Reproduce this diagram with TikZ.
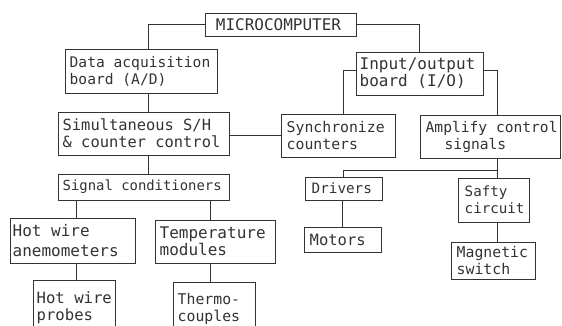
\documentclass[tikz,border=0pt]{standalone}
\usepackage{fontspec}
\setmainfont{DejaVu Sans Mono}
\begin{document}
\begin{tikzpicture}[x=1pt,y=-1pt,
  box/.style={draw=black!80, line width=1pt, inner sep=0pt, rectangle},
  txt/.style={inner sep=0pt, align=left, text=black!80, font=\fontsize{#1}{17}\selectfont},
  txt/.default=14.8,
  wire/.style={draw=black!80, line width=1pt}]
\clip (0,0) rectangle (562,325);
\fill[white] (0,0) rectangle (562,325);
% boxes: center, width, height
\node[box, minimum width=151, minimum height=23] (micro)  at (280.5,24.5) {};
\node[box, minimum width=152, minimum height=44] (daq)    at (141,71) {};
\node[box, minimum width=127, minimum height=43] (io)     at (419.5,73.5) {};
\node[box, minimum width=171, minimum height=43] (sim)    at (143.5,133.5) {};
\node[box, minimum width=114, minimum height=43] (sync)   at (338,135.5) {};
\node[box, minimum width=140, minimum height=43] (amp)    at (490,136.5) {};
\node[box, minimum width=171, minimum height=26] (sig)    at (143.5,187) {};
\node[box, minimum width=77,  minimum height=23] (drv)    at (343.5,188.5) {};
\node[box, minimum width=71,  minimum height=44] (safe)   at (493.5,200) {};
\node[box, minimum width=77,  minimum height=25] (motors) at (342.5,239.5) {};
\node[box, minimum width=84,  minimum height=37] (mag)    at (493,260.5) {};
\node[box, minimum width=125, minimum height=45] (hwa)    at (72.5,240.5) {};
\node[box, minimum width=120, minimum height=43] (temp)   at (215,241.5) {};
\node[box, minimum width=82,  minimum height=52] (hwp)    at (74,306) {};
\node[box, minimum width=82,  minimum height=50] (thermo) at (214,307) {};
% texts
\node[txt=16] (microT) at ([xshift=-2]micro.center) {MICROCOMPUTER};
\node[txt=14.6, anchor=west] (daqT) at ([xshift=5]daq.west) {Data acquisition\\board (A/D)};
\node[txt=16, anchor=west] (ioT) at ([xshift=4]io.west) {Input/output\\board (I/O)};
\node[txt=15.4, anchor=west] (simT) at ([xshift=5]sim.west) {Simultaneous S/H\\\& counter control};
\node[txt=14.8, anchor=west] (syncT) at ([xshift=6]sync.west) {Synchronize\\counters};
\node[txt=14.6, anchor=west] (ampT) at ([xshift=6]amp.west) {Amplify control\\\hspace*{19pt}signals};
\node[txt=13.9, anchor=west] (sigT) at ([xshift=5]sig.west) {Signal conditioners};
\node[txt=14.3, anchor=west] (drvT) at ([xshift=7]drv.west) {Drivers};
\node[txt=14.2, anchor=west] (safeT) at ([xshift=7]safe.west) {Safty\\circuit};
\node[txt=15.5, anchor=west] (motorsT) at ([xshift=6]motors.west) {Motors};
\node[txt=14.8, anchor=west] (magT) at ([xshift=6]mag.west) {Magnetic\\switch};
\node[txt=16, anchor=west, font=\fontsize{16}{20}\selectfont] (hwaT) at ([xshift=3]hwa.west) {Hot wire\\anemometers};
\node[txt=16, anchor=west] (tempT) at ([xshift=5]temp.west) {Temperature\\modules};
\node[txt=15.6, anchor=west] (hwpT) at ([xshift=4,yshift=-2]hwp.west) {Hot wire\\probes};
\node[txt=14.8, anchor=west] (thermoT) at ([xshift=5,yshift=-2]thermo.west) {Thermo-\\couples};
% connectors
\draw[wire] (micro.west) -| ([xshift=7]daq.north);
\draw[wire] ([xshift=7]daq.south) -- ([xshift=7]daq.south |- sim.north);
\draw[wire] ([xshift=4.5]sim.south) -- ([xshift=4.5]sim.south |- sig.north);
\draw[wire] (sync.west) -- (sync.west -| sim.east);
\draw[wire] (micro.east) -| (io.north);
\draw[wire] ([yshift=3.5]io.west) -| ([xshift=5]sync.north);
\draw[wire] ([yshift=3.5]io.east) -| ([xshift=7]amp.north);
\coordinate (busR) at (497,170);
\coordinate (busL) at (343,170);
\draw[wire] ([xshift=7]amp.south) -- (busR) -- (busL) -- (busL |- drv.north);
\draw[wire] (busR) -- (busR |- safe.north);
\draw[wire] ([xshift=-1]drv.south) -- ([xshift=-1]drv.south |- motors.north);
\draw[wire] ([xshift=3.5]safe.south) -- ([xshift=3.5]safe.south |- mag.north);
\coordinate (sigL) at (76,200);
\coordinate (sigR) at (210,200);
\draw[wire] (sigL) -- (sigL |- hwa.north);
\draw[wire] (sigR) -- (sigR |- temp.north);
\draw[wire] ([xshift=3.5]hwa.south) -- ([xshift=3.5]hwa.south |- hwp.north);
\draw[wire] ([xshift=-5]temp.south) -- ([xshift=-5]temp.south |- thermo.north);
\end{tikzpicture}
\end{document}
